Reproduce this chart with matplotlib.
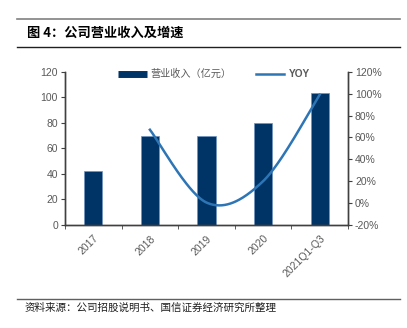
import matplotlib
matplotlib.use("Agg")
import matplotlib.pyplot as plt
import numpy as np
from matplotlib.lines import Line2D

plt.rcParams['font.family'] = ['Liberation Sans', 'Noto Sans CJK SC', 'DejaVu Sans']

categories = ['2017', '2018', '2019', '2020', '2021Q1-Q3']
revenue = [42, 70, 70, 80, 103]
yoy = [None, 67, 0.5, 20, 99]

bar_color = '#003366'
line_color = '#2E75B6'
text_gray = '#595959'
axis_gray = '#404040'

fig = plt.figure(figsize=(4.07, 3.28), dpi=100)
ax = fig.add_axes([65/407, 1-225/328, (348-65)/407, (225-71.7)/328])
ax2 = ax.twinx()

x = np.arange(len(categories))
ax.bar(x, revenue, width=0.32, color=bar_color, edgecolor='#6f93c0', linewidth=0.5, zorder=2)

# Excel-like smoothed line (Catmull-Rom / Bezier)
pts = [(xi, v) for xi, v in zip(x, yoy) if v is not None]
px = np.array([p[0] for p in pts], float)
py = np.array([p[1] for p in pts], float)
cx, cy = [], []
n = len(px)
for i in range(n - 1):
    p0 = (px[i-1], py[i-1]) if i > 0 else (px[i], py[i])
    p1 = (px[i], py[i]); p2 = (px[i+1], py[i+1])
    p3 = (px[i+2], py[i+2]) if i + 2 < n else (px[i+1], py[i+1])
    c1 = (p1[0] + (p2[0]-p0[0])/6, p1[1] + (p2[1]-p0[1])/6)
    c2 = (p2[0] - (p3[0]-p1[0])/6, p2[1] - (p3[1]-p1[1])/6)
    t = np.linspace(0, 1, 60)
    bx = (1-t)**3*p1[0] + 3*(1-t)**2*t*c1[0] + 3*(1-t)*t**2*c2[0] + t**3*p2[0]
    by = (1-t)**3*p1[1] + 3*(1-t)**2*t*c1[1] + 3*(1-t)*t**2*c2[1] + t**3*p2[1]
    cx.extend(bx); cy.extend(by)
ax2.plot(cx, cy, color=line_color, linewidth=1.8, zorder=3)

ax.set_xlim(-0.5, len(categories) - 0.5)
ax.set_ylim(0, 120)
ax.set_yticks(range(0, 121, 20))
ax2.set_ylim(-20, 120)
ax2.set_yticks(range(-20, 121, 20))
ax2.set_yticklabels([f'{v}%' for v in range(-20, 121, 20)])

ax.set_xticks(x)
ax.set_xticklabels(categories, rotation=45, ha='right', va='top', rotation_mode='anchor')
ax.set_xticks(np.arange(-0.5, len(categories), 1), minor=True)
ax.tick_params(axis='x', which='major', length=0, labelsize=7.5, labelcolor=text_gray, pad=6)
ax.tick_params(axis='x', which='minor', length=3, color=axis_gray, direction='out')
ax.tick_params(axis='y', length=3, color=axis_gray, labelsize=7.5, labelcolor=text_gray, pad=2)
ax2.tick_params(axis='y', length=3, color=axis_gray, labelsize=7.5, labelcolor=text_gray, pad=2)

for a in (ax, ax2):
    a.spines['top'].set_visible(False)
    for s in ('left', 'right', 'bottom'):
        a.spines[s].set_color(axis_gray)
        a.spines[s].set_linewidth(1.0)

handles = [Line2D([0], [0], color=bar_color, linewidth=5, solid_capstyle='butt'),
           Line2D([0], [0], color=line_color, linewidth=1.8)]
leg = fig.legend(handles, ['营业收入（亿元）', 'YOY'], loc='center', bbox_to_anchor=(214/407, 1-74/328),
           ncol=2, frameon=False, labelcolor=text_gray, handlelength=2.8,
           columnspacing=2.4, handletextpad=0.4, prop={'family': ['Noto Sans CJK SC'], 'size': 7.3})
leg.get_texts()[1].set_fontweight('bold')
leg.get_texts()[1].set_family(['Liberation Sans'])

# header decoration
fig.add_artist(Line2D([17/407, 400/407], [1-19/328, 1-19/328], color='#808080', linewidth=1.2))
fig.add_artist(Line2D([17/407, 400/407], [1-47/328, 1-47/328], color='#202020', linewidth=1.0))
fig.add_artist(Line2D([17/407, 400/407], [1-299/328, 1-299/328], color='#606060', linewidth=1.0))
fig.text(27/407, 1-33/328, '图 4：公司营业收入及增速', fontsize=9.5, fontweight='bold',
         family=['Noto Sans CJK SC'], va='center', ha='left', color='#000000')
fig.text(25/407, 1-308/328, '资料来源：公司招股说明书、国信证券经济研究所整理', fontsize=7.6,
         family=['Noto Sans CJK SC'], va='center', ha='left', color='#202020')

fig.savefig('out.png', dpi=100)
